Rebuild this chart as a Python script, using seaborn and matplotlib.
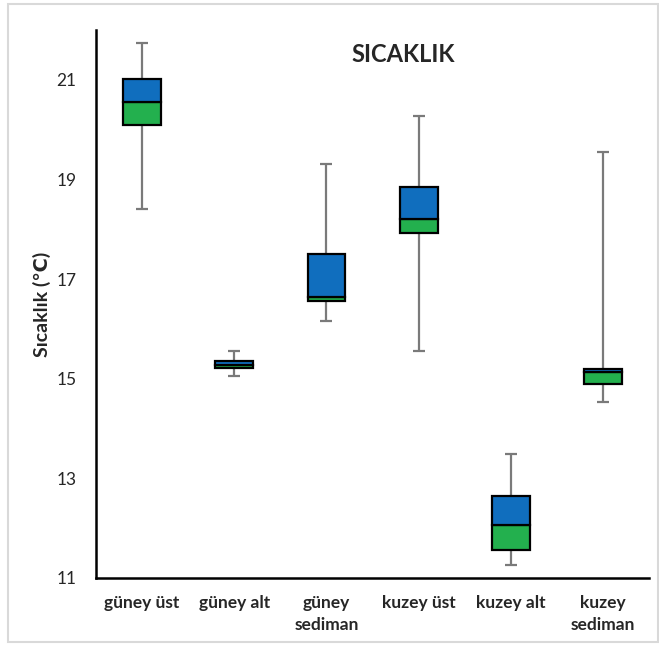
"""
Two-tone box plot of temperature (SICAKLIK) per sampling station.
Boxes: green from Q1 to median, blue from median to Q3, grey whiskers.
"""

import numpy as np
import matplotlib
matplotlib.use("Agg")
import matplotlib.pyplot as plt
import seaborn as sns

# ---- data ----
stations = ["güney üst", "güney alt", "güney\nsediman",
            "kuzey üst", "kuzey alt", "kuzey\nsediman"]
whisker_low = [18.40, 15.06, 16.16, 15.56, 11.27, 14.53]
q1 = [20.09, 15.21, 16.56, 17.93, 11.56, 14.89]
median = [20.56, 15.28, 16.65, 18.21, 12.07, 15.13]
q3 = [21.02, 15.35, 17.51, 18.84, 12.65, 15.19]
whisker_high = [21.73, 15.56, 19.31, 20.27, 13.48, 19.55]

GREEN = "#23B04E"
BLUE = "#106EBE"
GREY = "#7A7A7A"

sns.set_style("white")
plt.rcParams["font.family"] = ["Lato", "DejaVu Sans"]

fig = plt.figure(figsize=(6.59, 6.45), dpi=100)
ax = fig.add_axes([0.1457, 0.1039, 0.8393, 0.8496])

pos = np.arange(len(stations))
q1a, meda, q3a = np.array(q1), np.array(median), np.array(q3)

# whiskers + caps
ax.vlines(pos, whisker_low, whisker_high, color=GREY, lw=1.6, zorder=1)
ax.hlines(whisker_low, pos - 0.065, pos + 0.065, color=GREY, lw=1.6, zorder=1)
ax.hlines(whisker_high, pos - 0.065, pos + 0.065, color=GREY, lw=1.6, zorder=1)

# lower half (green) and upper half (blue) of the boxes
sns.barplot(x=stations, y=meda - q1a, bottom=q1a, color=GREEN, width=0.41,
            edgecolor="black", linewidth=1.6, saturation=1, ax=ax, zorder=2)
sns.barplot(x=stations, y=q3a - meda, bottom=meda, color=BLUE, width=0.41,
            edgecolor="black", linewidth=1.6, saturation=1, ax=ax, zorder=2)

ax.set_xlim(-0.5, 5.5)
ax.set_ylim(11, 22)
ax.set_yticks([11, 13, 15, 17, 19, 21])
ax.tick_params(axis="both", length=0, labelsize=12.5)
ax.tick_params(axis="y", pad=14)
ax.tick_params(axis="x", pad=12)
for lbl in ax.get_xticklabels():
    lbl.set_fontweight("bold")
    lbl.set_linespacing(1.5)
ax.set_xlabel("")
ax.set_ylabel("Sıcaklık (℃)", fontsize=14, fontweight="bold", labelpad=4)

for side in ["top", "right"]:
    ax.spines[side].set_visible(False)
for side in ["left", "bottom"]:
    ax.spines[side].set_color("black")
    ax.spines[side].set_linewidth(1.8)

ax.text(0.555, 0.955, "SICAKLIK", transform=ax.transAxes, ha="center",
        va="center", fontsize=17, fontweight="bold")

# light grey chart-area frame
fig.patches.append(plt.Rectangle((0.012, 0.004), 0.986, 0.99, fill=False,
                                 edgecolor="#D9D9D9", lw=1.5,
                                 transform=fig.transFigure))

fig.savefig("out.png", dpi=100)
